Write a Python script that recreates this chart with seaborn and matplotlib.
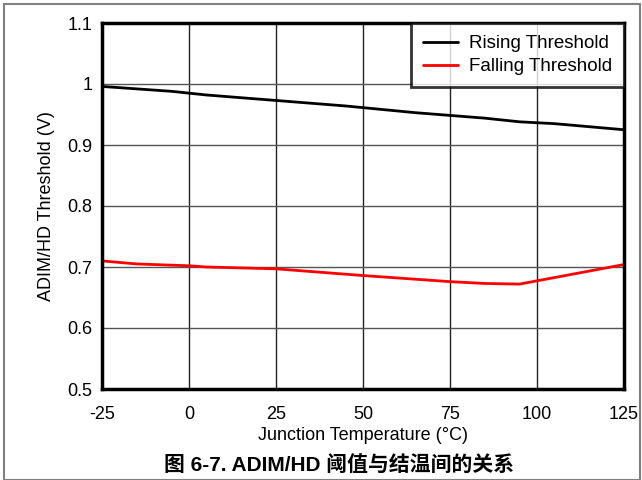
import matplotlib
matplotlib.use("Agg")
import matplotlib.pyplot as plt
import seaborn as sns
import pandas as pd
from matplotlib.patches import Rectangle

temp_rising = [-25, -15, -5, 5, 25, 45, 65, 85, 95, 105, 125]
rising = [0.996, 0.992, 0.988, 0.982, 0.973, 0.964, 0.953, 0.944, 0.938, 0.935, 0.925]
temp_falling = [-25, -15, 0, 5, 25, 50, 75, 85, 95, 125]
falling = [0.710, 0.705, 0.702, 0.700, 0.697, 0.686, 0.676, 0.673, 0.672, 0.704]
x_ticks = [-25, 0, 25, 50, 75, 100, 125]
y_ticks = [0.5, 0.6, 0.7, 0.8, 0.9, 1.0, 1.1]
y_tick_labels = ["0.5", "0.6", "0.7", "0.8", "0.9", "1", "1.1"]

df = pd.concat([
    pd.DataFrame({"T": temp_rising, "V": rising, "s": "Rising Threshold"}),
    pd.DataFrame({"T": temp_falling, "V": falling, "s": "Falling Threshold"}),
])

sns.set_theme(style="white")
plt.rcParams["font.family"] = ["Liberation Sans", "DejaVu Sans"]
plt.rcParams["text.color"] = "black"
plt.rcParams["axes.labelcolor"] = "black"

fig = plt.figure(figsize=(6.42, 4.8), dpi=100)
ax = fig.add_axes([102/642, 1 - 389/480, 522/642, 366/480])

sns.lineplot(data=df, x="T", y="V", hue="s", palette={"Rising Threshold": "black", "Falling Threshold": "#ff0000"},
             linewidth=2, ax=ax, sort=True, estimator=None)

ax.set_xlim(-25, 125)
ax.set_ylim(0.5, 1.1)
ax.set_xticks(x_ticks)
ax.set_xticklabels([str(t) for t in x_ticks], fontsize=13)
ax.set_yticks(y_ticks)
ax.set_yticklabels(y_tick_labels, fontsize=13)
ax.tick_params(axis="y", length=0, pad=7, colors="black")
ax.tick_params(axis="x", length=0, pad=12, colors="black")
ax.xaxis.grid(True, color="#222222", linewidth=1)
ax.yaxis.grid(True, color="#555555", linewidth=1)
ax.set_axisbelow(True)
for sp in ax.spines.values():
    sp.set_color("black")
    sp.set_linewidth(2.5)
ax.set_xlabel("Junction Temperature (°C)", fontsize=13, labelpad=3, color="black")
ax.set_ylabel("ADIM/HD Threshold (V)", fontsize=13, labelpad=9, color="black")

leg = ax.legend(loc="upper right", fontsize=13.5, frameon=True, fancybox=False,
                borderaxespad=0, handlelength=1.9, handletextpad=0.55,
                borderpad=0.65, labelspacing=0.3)
leg.get_frame().set_edgecolor("black")
leg.get_frame().set_linewidth(2)
leg.set_title(None)
for t in leg.get_texts():
    t.set_color("black")

fig.text(339/642, 1 - 465/480, "图 6-7. ADIM/HD 阈值与结温间的关系", ha="center", va="center",
         fontsize=15, fontweight="bold", color="black",
         family=["Liberation Sans", "Noto Sans CJK SC"])

fig.patches.append(Rectangle((4/642, 0), 636/642, 1 - 4/480, transform=fig.transFigure,
                             fill=False, edgecolor="#808080", linewidth=1.5))

fig.savefig("out.png", dpi=100)
